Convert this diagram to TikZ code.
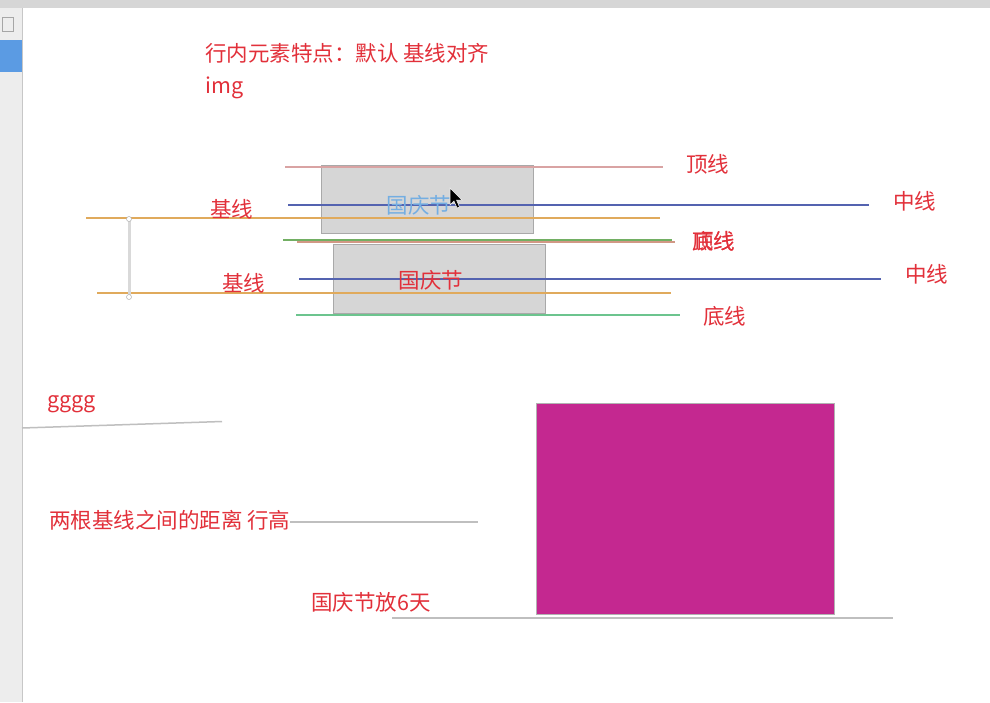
\documentclass[tikz,border=0pt]{standalone}
\usepackage{fontspec}
\setmainfont{Noto Sans CJK SC}
\definecolor{labelred}{HTML}{E2303A}
\definecolor{boxgray}{HTML}{D6D6D6}
\definecolor{boxedge}{HTML}{A9A9A9}
\definecolor{topcol}{HTML}{D9A3A3}
\definecolor{midcol}{HTML}{5463B0}
\definecolor{basecol}{HTML}{E0AA5C}
\definecolor{bottomcol}{HTML}{6CC48E}
\definecolor{magentabox}{HTML}{C42890}
\definecolor{textblue}{HTML}{74AEE2}
\definecolor{sidebarblue}{HTML}{5B9BE3}
\begin{document}
\begin{tikzpicture}[x=1pt,y=-1pt,
	lbl/.style={text=labelred,font=\fontsize{21.5}{25}\selectfont,inner sep=0pt,anchor=west},
	box/.style={draw=boxedge,fill=boxgray,line width=1pt},
	guide/.style={line width=1.6pt}]

		\useasboundingbox [fill=white] (0,0) rectangle (990,702);

		% window chrome
		\fill [black!16] (0,0) rectangle (990,8);
		\fill [black!7] (0,8) rectangle (22,702);
		\draw [black!22, line width=1pt] (22,8) -- (22,702);
		\fill [sidebarblue] (0,40) rectangle (22,72);
		\draw [black!35, line width=0.6pt] (2,17) rectangle (13,31);

		\node (title) at (205,53) [lbl] {行内元素特点：默认 基线对齐};
		\node (img) at (205,88) [lbl] {img};

		\node (box1) at (427,199) [box, minimum width=212pt, minimum height=68pt] {};
		\node (box2) at (439,278.5) [box, minimum width=212pt, minimum height=69pt] {};

		\draw [guide, topcol] (285,167) -- (663,167);
		\draw [guide, midcol] (288,205) -- (869,205);
		\draw [guide, basecol] (86,218) -- (660,218);
		\draw [guide, bottomcol!70!olive] (283,240) -- (672,240);
		\draw [guide, topcol!70!brown] (297,242) -- (675,242);
		\draw [guide, midcol] (299,279) -- (881,279);
		\draw [guide, basecol] (97,293) -- (671,293);
		\draw [guide, bottomcol] (296,315) -- (680,315);

		\draw [black!15, line width=3pt] (129,219) -- (129,297);
		\draw [black!30, fill=white, line width=0.5pt] (129,219) circle (2.5pt);
		\draw [black!30, fill=white, line width=0.5pt] (129,297) circle (2.5pt);

		\node (txt1) at (419,205) [lbl, anchor=center, text=textblue] {国庆节};
		\node (txt2) at (431,280) [lbl, anchor=center] {国庆节};

		\node (base1) at (210,209) [lbl] {基线};
		\node (base2) at (222,283) [lbl] {基线};
		\node (top1) at (686,164) [lbl] {顶线};
		\node (mid1) at (893,201) [lbl] {中线};
		\node (top2) at (692,241) [lbl] {顶线};
		\node (bot1) at (692,241) [lbl] {底线};
		\node (mid2) at (905,274) [lbl] {中线};
		\node (bot2) at (703,316) [lbl] {底线};

		% cursor
		\draw [white, fill=black, line width=0.5pt] (450,188) -- (450,205) -- (454,201) -- (457,208)
		-- (459.5,207) -- (456.5,200) -- (462,200) -- cycle;

		\node (gggg) at (47,404) [lbl] {gggg};
		\draw [black!25, line width=1.5pt] (22,428) -- (222,421.5);

		\node (height) at (49,520) [lbl] {两根基线之间的距离 行高};
		\draw [black!25, line width=1.5pt] (290,522) -- (478,522);

		\node (pink) at (685,508.5) [fill=magentabox, draw=black!30, line width=0.8pt,
		minimum width=298pt, minimum height=211pt] {};

		\node (holiday) at (311,602) [lbl] {国庆节放6天};
		\draw [black!25, line width=1.5pt] (392,618) -- (893,618);

		\end{tikzpicture}
\end{document}
